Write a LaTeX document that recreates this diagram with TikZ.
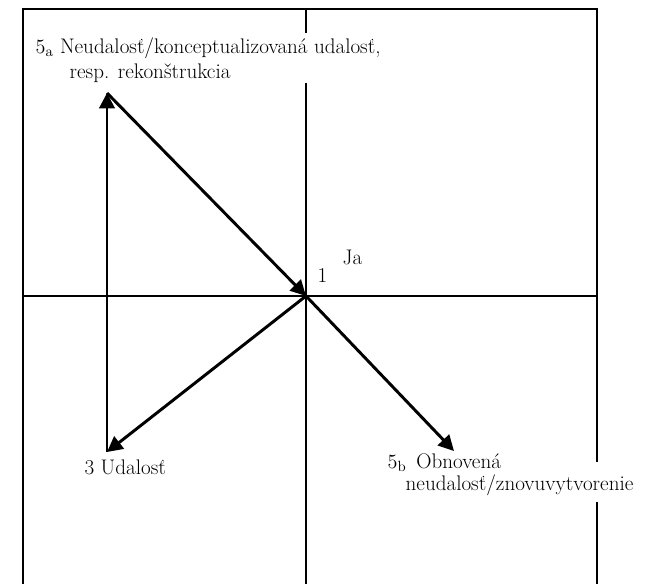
\documentclass[tikz,border=0pt]{standalone}
\usepackage{fontspec}
\usetikzlibrary{arrows.meta,positioning}

\begin{document}
\begin{tikzpicture}[
  x=0.025cm, y=-0.025cm,
  frame/.style={line width=2.1pt},
  arr/.style={-{Triangle[length=11pt,width=11pt]}, line width=2.1pt},
  lbl/.style={font=\fontsize{15}{18}\selectfont, inner sep=1pt, anchor=west}
]
  \useasboundingbox (0,0) rectangle (656,584);
  % frame, with the gaps the text leaves
  \draw[frame] (23,584) -- (23,9) -- (597,9) -- (597,462);
  \draw[frame] (597,502) -- (597,584);
  \draw[frame] (306,9) -- (306,33);
  \draw[frame] (306,83) -- (306,584);
  \draw[frame] (23,296) -- (597,296);
  % points
  \coordinate (ja) at (306,296);
  \coordinate (neud) at (107,93);
  \coordinate (udal) at (107,452);
  \coordinate (obnov) at (454,451);
  \draw[arr] (udal) -- (neud);
  \draw[arr] (neud) -- (ja);
  \draw[arr] (ja) -- (udal);
  \draw[arr] (ja) -- (obnov);
  % labels
  \node[lbl] (t5a) at (34,48) {$5_{\mathrm{a}}$ Neudalosť/konceptualizovaná udalosť,};
  \node[lbl] (t5aresp) at (68,73) {resp. rekonštrukcia};
  \node[lbl] (t1) at (316,276) {1};
  \node[lbl] (tja) at (341,257) {Ja};
  \node[lbl] (t3) at (83,467) {3 Udalosť};
  \node[lbl] (t5b) at (386,463) {$5_{\mathrm{b}}$\, Obnovená};
  \node[lbl] (t5bnext) at (404,485) {neudalosť/znovuvytvorenie};
\end{tikzpicture}
\end{document}
